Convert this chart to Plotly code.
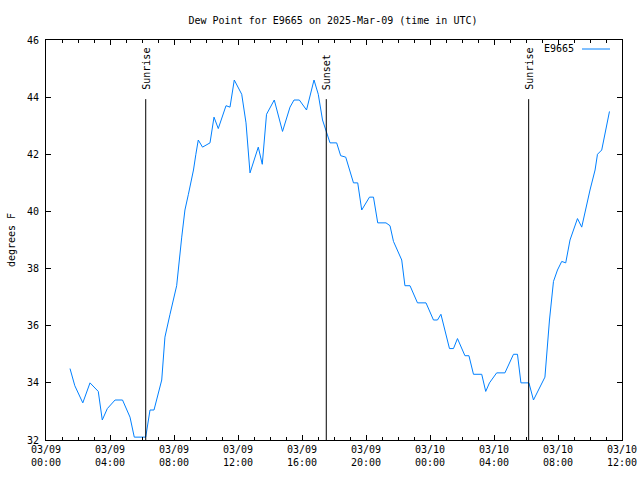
import plotly.graph_objects as go

# ---- data ----
times = [
    "2025-03-09 01:30", "2025-03-09 01:48", "2025-03-09 02:18", "2025-03-09 02:45",
    "2025-03-09 03:16", "2025-03-09 03:31", "2025-03-09 03:50", "2025-03-09 04:19",
    "2025-03-09 04:47", "2025-03-09 05:02", "2025-03-09 05:15", "2025-03-09 05:31",
    "2025-03-09 06:14", "2025-03-09 06:30", "2025-03-09 06:45", "2025-03-09 07:14",
    "2025-03-09 07:26", "2025-03-09 07:45", "2025-03-09 08:10", "2025-03-09 08:29",
    "2025-03-09 08:41", "2025-03-09 08:54", "2025-03-09 09:13", "2025-03-09 09:22",
    "2025-03-09 09:31", "2025-03-09 09:47", "2025-03-09 10:15", "2025-03-09 10:30",
    "2025-03-09 10:46", "2025-03-09 11:15", "2025-03-09 11:30", "2025-03-09 11:46",
    "2025-03-09 12:14", "2025-03-09 12:30", "2025-03-09 12:45", "2025-03-09 13:16",
    "2025-03-09 13:31", "2025-03-09 13:47", "2025-03-09 14:16", "2025-03-09 14:47",
    "2025-03-09 15:15", "2025-03-09 15:30", "2025-03-09 15:50", "2025-03-09 16:17",
    "2025-03-09 16:45", "2025-03-09 17:01", "2025-03-09 17:17", "2025-03-09 17:45",
    "2025-03-09 18:10", "2025-03-09 18:25", "2025-03-09 18:44", "2025-03-09 19:13",
    "2025-03-09 19:29", "2025-03-09 19:44", "2025-03-09 20:13", "2025-03-09 20:28",
    "2025-03-09 20:44", "2025-03-09 21:15", "2025-03-09 21:30", "2025-03-09 21:43",
    "2025-03-09 22:14", "2025-03-09 22:26", "2025-03-09 22:45", "2025-03-09 23:13",
    "2025-03-09 23:45", "2025-03-10 00:13", "2025-03-10 00:28", "2025-03-10 00:41",
    "2025-03-10 00:56", "2025-03-10 01:13", "2025-03-10 01:28", "2025-03-10 01:43",
    "2025-03-10 02:11", "2025-03-10 02:26", "2025-03-10 02:43", "2025-03-10 03:14",
    "2025-03-10 03:29", "2025-03-10 03:43", "2025-03-10 04:10", "2025-03-10 04:41",
    "2025-03-10 05:13", "2025-03-10 05:28", "2025-03-10 05:41", "2025-03-10 06:11",
    "2025-03-10 06:28", "2025-03-10 07:11", "2025-03-10 07:28", "2025-03-10 07:43",
    "2025-03-10 07:58", "2025-03-10 08:14", "2025-03-10 08:29", "2025-03-10 08:45",
    "2025-03-10 09:13", "2025-03-10 09:29", "2025-03-10 10:00", "2025-03-10 10:19",
    "2025-03-10 10:28", "2025-03-10 10:44", "2025-03-10 11:13",
]
dew_point = [
    34.5, 33.9, 33.3, 34.0,
    33.7, 32.7, 33.1, 33.4,
    33.4, 33.1, 32.8, 32.1,
    32.1, 33.05, 33.05, 34.1,
    35.6, 36.4, 37.4, 39.1,
    40.05, 40.6, 41.45, 42.0,
    42.5, 42.25, 42.4, 43.3,
    42.9, 43.7, 43.65, 44.6,
    44.1, 43.1, 41.35, 42.25,
    41.65, 43.4, 43.9, 42.8,
    43.65, 43.9, 43.9, 43.55,
    44.6, 44.1, 43.2, 42.4,
    42.4, 41.95, 41.9, 41.0,
    41.0, 40.05, 40.5, 40.5,
    39.6, 39.6, 39.5, 38.95,
    38.3, 37.4, 37.4, 36.8,
    36.8, 36.2, 36.2, 36.4,
    35.85, 35.2, 35.2, 35.55,
    34.95, 34.95, 34.3, 34.3,
    33.7, 34.0, 34.35, 34.35,
    35.0, 35.0, 34.0, 34.0,
    33.4, 34.2, 36.2, 37.55,
    37.95, 38.25, 38.2, 39.0,
    39.75, 39.45, 40.75, 41.45,
    42.0, 42.15, 43.5,
]
sun_times = ["2025-03-09 06:14", "2025-03-09 17:31", "2025-03-10 06:10"]
sun_labels = ["Sunrise", "Sunset", "Sunrise"]
tick_vals = ["2025-03-09 00:00", "2025-03-09 04:00", "2025-03-09 08:00",
             "2025-03-09 12:00", "2025-03-09 16:00", "2025-03-09 20:00",
             "2025-03-10 00:00", "2025-03-10 04:00", "2025-03-10 08:00",
             "2025-03-10 12:00"]
tick_text = ["03/09<br>00:00", "03/09<br>04:00", "03/09<br>08:00",
             "03/09<br>12:00", "03/09<br>16:00", "03/09<br>20:00",
             "03/10<br>00:00", "03/10<br>04:00", "03/10<br>08:00",
             "03/10<br>12:00"]
series_name = "E9665"
line_color = "#0080ff"

FONT = "DejaVu Sans Mono"

fig = go.Figure()
fig.add_trace(go.Scatter(x=times, y=dew_point, mode="lines", name=series_name,
                         line=dict(color=line_color, width=1), showlegend=False))

for t, lab in zip(sun_times, sun_labels):
    fig.add_shape(type="line", xref="x", yref="y", x0=t, x1=t, y0=32, y1=43.93,
                  line=dict(color="black", width=1))
    fig.add_annotation(x=t, y=44.18, xref="x", yref="y", text=lab, textangle=-90,
                       showarrow=False, xanchor="center", yanchor="bottom",
                       font=dict(family=FONT, size=10, color="black"))

# legend (text then line sample, as in the reference)
L, R, T, B = 46, 622, 40, 440
def px(x):
    return (x - L) / (R - L)
def py(y):
    return (B - y) / (B - T)
fig.add_annotation(x=px(576), y=py(49), xref="paper", yref="paper", text=series_name,
                   showarrow=False, xanchor="right", yanchor="middle",
                   font=dict(family=FONT, size=10, color="black"))
fig.add_shape(type="line", xref="paper", yref="paper", x0=px(582), x1=px(610),
              y0=py(49), y1=py(49), line=dict(color=line_color, width=1))

fig.update_layout(
    width=640, height=480,
    margin=dict(l=L, r=640 - R, t=T, b=480 - B, autoexpand=False),
    paper_bgcolor="white", plot_bgcolor="white",
    font=dict(family=FONT, size=10, color="black"),
    title=dict(text="Dew Point for E9665 on 2025-Mar-09 (time in UTC)",
               x=333 / 640, xref="container", xanchor="center",
               y=1 - 20 / 480, yanchor="middle",
               font=dict(family=FONT, size=10, color="black")),
    showlegend=False,
)
fig.update_xaxes(
    type="date", range=["2025-03-09 00:00", "2025-03-10 12:00"],
    tickvals=tick_vals, ticktext=tick_text, automargin=False,
    ticks="inside", ticklen=5, tickcolor="black", tickwidth=1,
    minor=dict(ticks="inside", ticklen=3, dtick=3600000, tick0="2025-03-09 00:00",
               tickcolor="black", showgrid=False),
    showline=True, linecolor="black", linewidth=1, mirror="ticks",
    showgrid=False, zeroline=False,
    tickfont=dict(family=FONT, size=10, color="black"),
)
fig.update_yaxes(
    range=[32, 46], tickvals=[32, 34, 36, 38, 40, 42, 44, 46], automargin=False,
    ticks="inside", ticklen=5, tickcolor="black", tickwidth=1,
    showline=True, linecolor="black", linewidth=1, mirror="ticks",
    showgrid=False, zeroline=False,
    ticklabelstandoff=4,
    title=dict(text="degrees F", standoff=9, font=dict(family=FONT, size=10, color="black")),
    tickfont=dict(family=FONT, size=10, color="black"),
)

fig.write_html("out.html")
